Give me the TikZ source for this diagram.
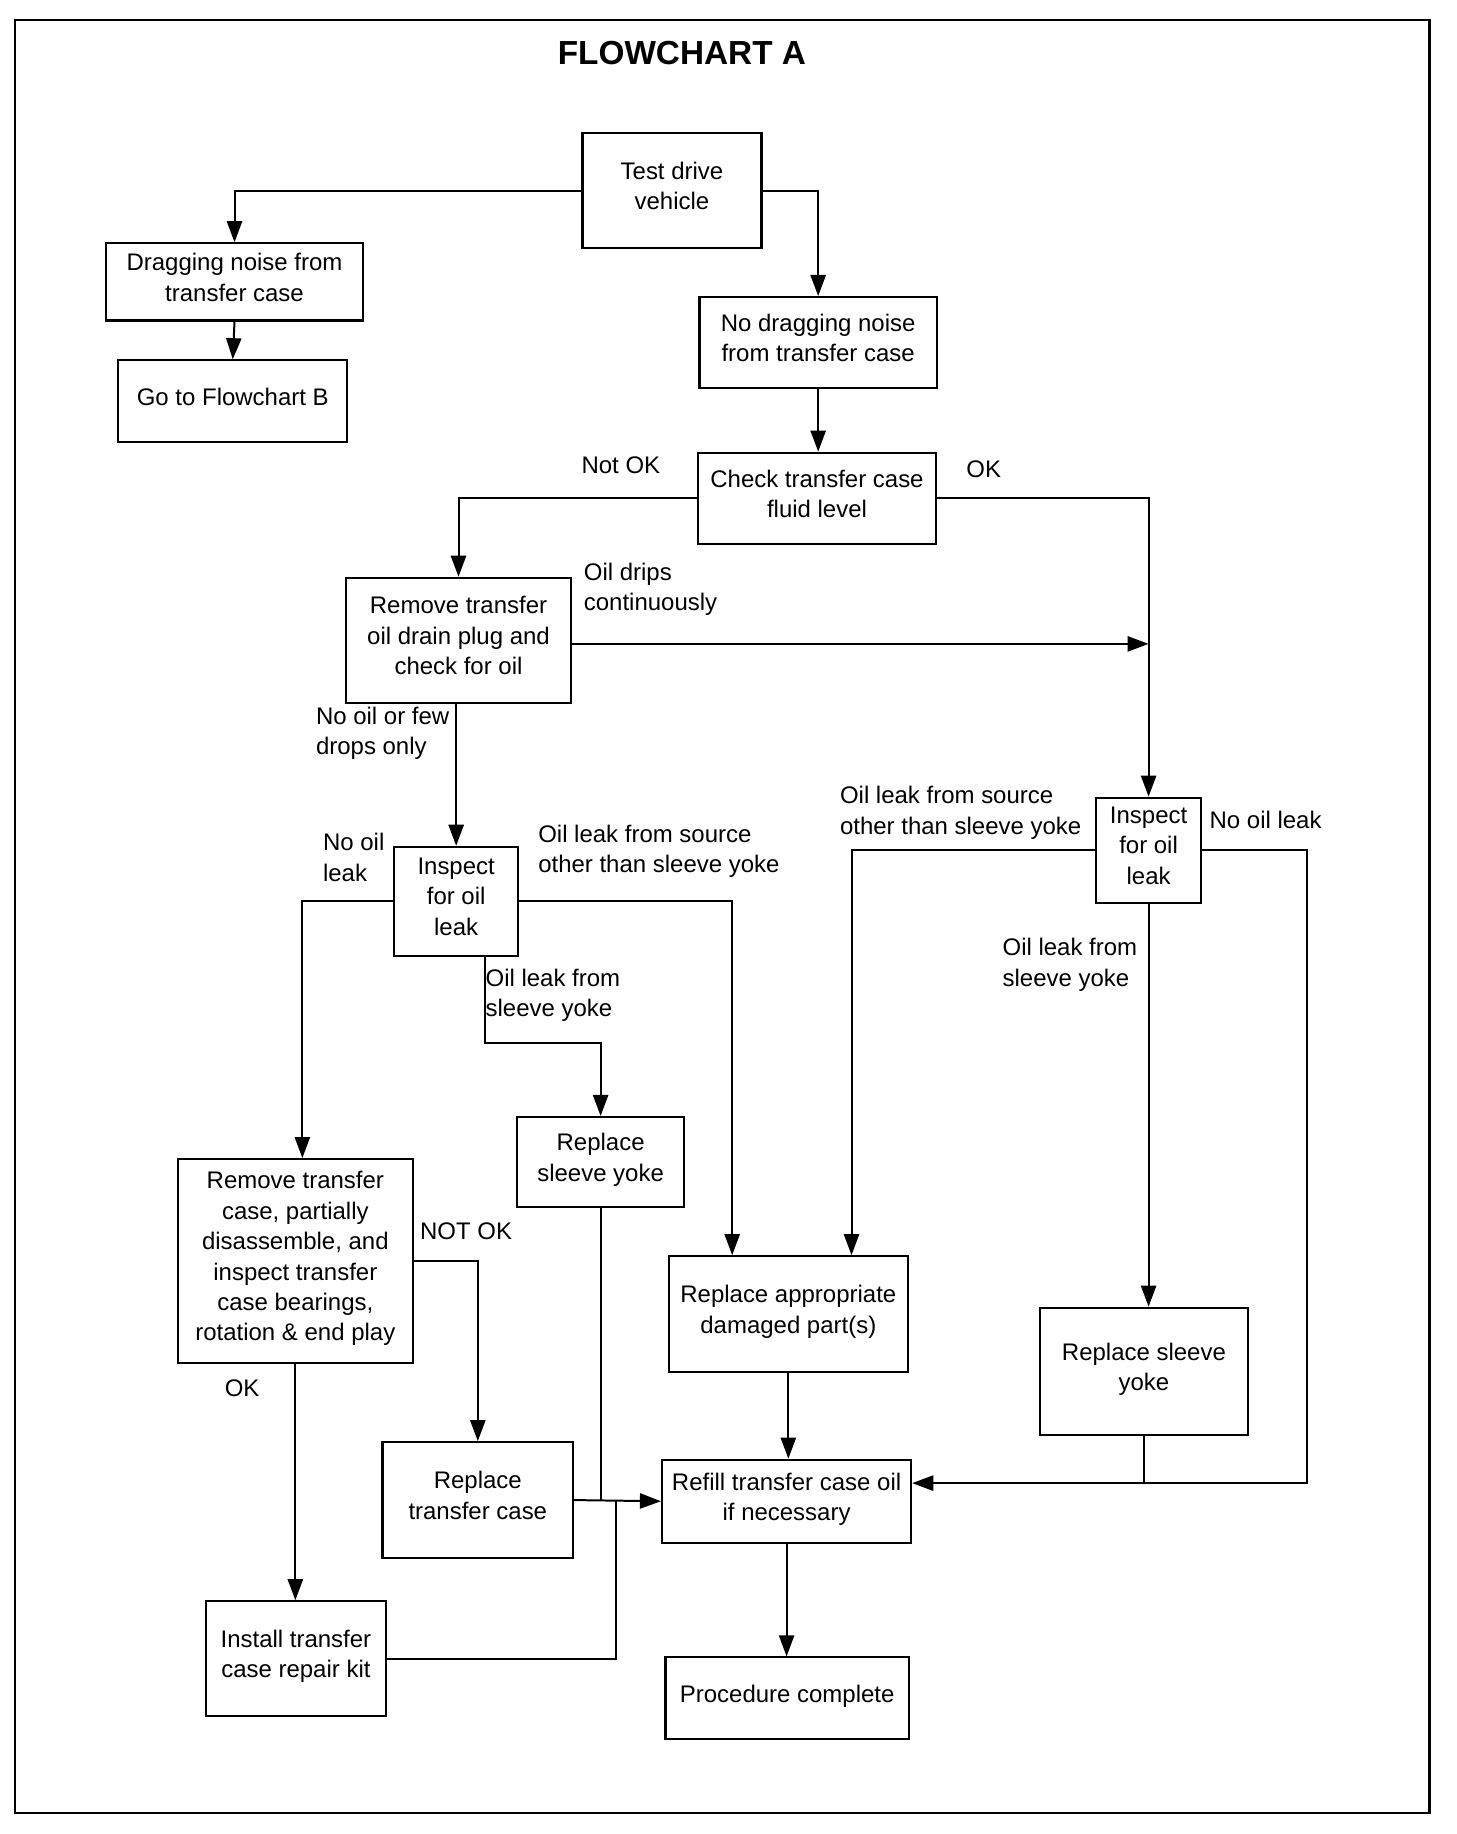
\documentclass[tikz,border=0pt]{standalone}
\usepackage{fontspec}
\setmainfont{Liberation Sans}
\usetikzlibrary{arrows.meta}
\newcommand\myfs{\fontsize{20.5}{26}\selectfont}
\tikzset{
  box/.style={draw, line width=1.8pt, inner sep=0pt, align=center, font=\myfs, text depth=8pt},
  lbl/.style={inner sep=0pt, align=left, anchor=west, font=\myfs},
  conn/.style={line width=1.7pt},
  arr/.style={line width=1.7pt, -{Triangle[length=18pt,width=13pt]}},
}
\begin{document}
\begin{tikzpicture}[x=1pt,y=-1pt]
\useasboundingbox (0,0) rectangle (1245,1568);
\draw[line width=2.2pt] (13,17) rectangle (1222,1550);
\node[font=\fontsize{28.5}{34}\selectfont\bfseries, inner sep=0pt] (title) at (583,45) {FLOWCHART A};

% boxes
\node[box, minimum width=153pt, minimum height=98pt] (test) at (574.5,163) {Test drive\\vehicle};
\node[box, minimum width=219pt, minimum height=66pt] (drag) at (200.5,241) {Dragging noise from\\transfer case};
\node[box, minimum width=196pt, minimum height=70pt] (gob) at (199,343) {Go to Flowchart B};
\node[box, minimum width=203pt, minimum height=78pt] (nodrag) at (699.5,293) {No dragging noise\\from transfer case};
\node[box, minimum width=203pt, minimum height=78pt] (check) at (698.5,426) {Check transfer case\\fluid level};
\node[box, minimum width=192pt, minimum height=107pt] (drain) at (392,547.5) {Remove transfer\\oil drain plug and\\check for oil};
\node[box, minimum width=106pt, minimum height=93pt] (inspL) at (390,770.5) {Inspect\\for oil\\leak};
\node[box, minimum width=90pt, minimum height=90pt] (inspR) at (982,727) {Inspect\\for oil\\leak};
\node[box, minimum width=143pt, minimum height=77pt] (yokeM) at (513.5,993.5) {Replace\\sleeve yoke};
\node[box, minimum width=201pt, minimum height=174pt] (rtc) at (252.5,1078) {Remove transfer\\case, partially\\disassemble, and\\inspect transfer\\case bearings,\\rotation \& end play};
\node[box, minimum width=204pt, minimum height=99pt] (rap) at (674,1123.5) {Replace appropriate\\damaged part(s)};
\node[box, minimum width=178pt, minimum height=109pt] (yokeR) at (978,1172.5) {Replace sleeve\\yoke};
\node[box, minimum width=163pt, minimum height=99pt] (rtcase) at (408.5,1282.5) {Replace\\transfer case};
\node[box, minimum width=213pt, minimum height=71pt] (refill) at (672.5,1283.5) {Refill transfer case oil\\if necessary};
\node[box, minimum width=154pt, minimum height=98pt] (kit) at (253,1418) {Install transfer\\case repair kit};
\node[box, minimum width=208pt, minimum height=70pt] (proc) at (673,1452) {Procedure complete};

% coordinates
\coordinate (dripstart) at ([yshift=-3pt]drain.east);
\coordinate (dripend) at (dripstart -| inspR.north);
\coordinate (rcorner) at (1117,1268);
\coordinate (kjoin) at ([xshift=36pt]rtcase.east);

% connectors
\draw[arr] (test.west) -| (drag.north);
\draw[arr] (test.east) -| (nodrag.north);
\draw[arr] (drag.south) -- (gob.north);
\draw[arr] (nodrag.south) -- (nodrag.south |- check.north);
\draw[arr] (check.west) -| (drain.north);
\draw[arr] (check.east) -| (inspR.north);
\draw[arr] (dripstart) -- (dripend);
\draw[arr] (inspL.north |- drain.south) -- (inspL.north);
\draw[arr] (inspL.west) -| ([xshift=6pt]rtc.north);
\draw[arr] (inspL.east) -| ([xshift=-48pt]rap.north);
\draw[arr] ([xshift=25pt]inspL.south) -- ++(0,74) -| (yokeM.north);
\draw[arr] (inspR.west) -| ([xshift=54pt]rap.north);
\draw[arr] (inspR.east) -| (rcorner) -- (refill.east |- rcorner);
\draw[arr] (inspR.south) -- (inspR.south |- yokeR.north);
\draw[conn] (yokeR.south) -- (yokeR.south |- rcorner);
\draw[arr] (rap.south) -- (rap.south |- refill.north);
\draw[arr] (refill.south) -- (refill.south |- proc.north);
\draw[arr] (rtc.east) -| (rtcase.north);
\draw[arr] (rtc.south) -- (rtc.south |- kit.north);
\draw[arr] (rtcase.east) -- (refill.west);
\draw[conn] (yokeM.south) -- (yokeM.south |- rtcase.east);
\draw[conn] (kit.east) -| (kjoin);

% labels
\node[lbl] (l1) at (497,398) {Not OK};
\node[lbl] (l2) at (826,401) {OK};
\node[lbl] (l3) at (499,504) {Oil drips\\continuously};
\node[lbl] (l4) at (270,627) {No oil or few\\drops only};
\node[lbl] (l5) at (276,733) {No oil\\leak};
\node[lbl] (l6) at (460,728) {Oil leak from source\\other than sleeve yoke};
\node[lbl] (l7) at (415,851) {Oil leak from\\sleeve yoke};
\node[lbl] (l8) at (718,695) {Oil leak from source\\other than sleeve yoke};
\node[lbl] (l9) at (1034,701) {No oil leak};
\node[lbl] (l10) at (857,825) {Oil leak from\\sleeve yoke};
\node[lbl] (l11) at (359,1053) {NOT OK};
\node[lbl] (l12) at (192,1187) {OK};
\end{tikzpicture}
\end{document}
